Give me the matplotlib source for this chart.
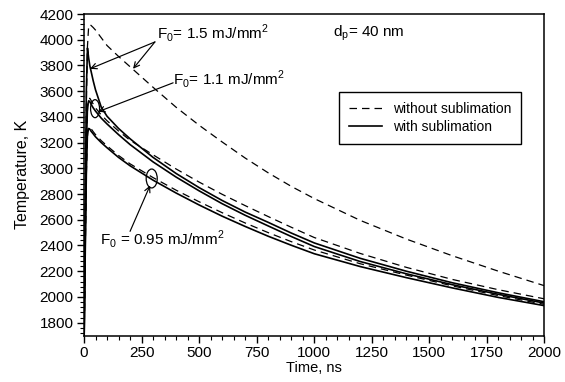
import matplotlib
matplotlib.use("Agg")
import matplotlib.pyplot as plt
from matplotlib.patches import Ellipse
from matplotlib.ticker import MultipleLocator

plt.rcParams['font.family'] = ['Liberation Sans', 'DejaVu Sans']
plt.rcParams['mathtext.fontset'] = 'custom'
plt.rcParams['mathtext.rm'] = 'Liberation Sans'

# time grid, ns
t = [0, 5, 10, 15, 20, 25, 30, 40, 50, 75, 100, 150, 200, 300, 400, 500,
     600, 700, 800, 900, 1000, 1200, 1400, 1600, 1800, 2000]

# temperature, K
T15_nosub = [1600, 2600, 3500, 3950, 4100, 4118, 4112, 4095, 4075, 4015, 3955, 3870,
             3790, 3630, 3475, 3335, 3205, 3080, 2965, 2860, 2765, 2595, 2450, 2320,
             2200, 2087]
T15_sub = [1600, 2600, 3600, 3935, 3860, 3800, 3760, 3680, 3610, 3475, 3405, 3310,
           3230, 3085, 2960, 2850, 2750, 2660, 2580, 2497, 2420, 2300, 2200, 2110,
           2032, 1962]
T11_nosub = [1600, 2400, 3150, 3450, 3535, 3545, 3530, 3500, 3470, 3415, 3370, 3290,
             3218, 3105, 2995, 2893, 2798, 2710, 2625, 2542, 2462, 2338, 2230, 2136,
             2056, 1985]
T11_sub = [1600, 2400, 3150, 3480, 3525, 3520, 3500, 3470, 3445, 3390, 3345, 3262,
           3185, 3050, 2932, 2825, 2725, 2635, 2552, 2470, 2392, 2275, 2180, 2095,
           2020, 1952]
T095_nosub = [1600, 2300, 2950, 3250, 3315, 3322, 3310, 3285, 3262, 3215, 3175, 3100,
              3035, 2928, 2830, 2740, 2655, 2575, 2500, 2430, 2365, 2258, 2170, 2086,
              2010, 1942]
T095_sub = [1600, 2300, 2950, 3280, 3310, 3305, 3290, 3268, 3245, 3200, 3160, 3085,
            3020, 2908, 2808, 2715, 2628, 2548, 2472, 2402, 2336, 2236, 2150, 2070,
            1996, 1932]

fig = plt.figure(figsize=(5.65, 3.82), dpi=100)
ax = fig.add_axes([0.1487, 0.1217, 0.815, 0.8416])

dash = (0, (6, 4))
lw_d, lw_s = 0.9, 1.2
ax.plot(t, T15_nosub, color='black', lw=lw_d, linestyle=dash)
ax.plot(t, T11_nosub, color='black', lw=lw_d, linestyle=dash)
ax.plot(t, T095_nosub, color='black', lw=lw_d, linestyle=dash, label='without sublimation')
ax.plot(t, T15_sub, color='black', lw=lw_s)
ax.plot(t, T11_sub, color='black', lw=lw_s)
ax.plot(t, T095_sub, color='black', lw=lw_s, label='with sublimation')

ax.set_xlim(0, 2000)
ax.set_ylim(1700, 4200)
ax.xaxis.set_major_locator(MultipleLocator(250))
ax.xaxis.set_minor_locator(MultipleLocator(50))
ax.yaxis.set_major_locator(MultipleLocator(200))
ax.yaxis.set_minor_locator(MultipleLocator(40))
ax.tick_params(which='major', direction='out', length=5, width=1, labelsize=11, pad=2.5)
ax.tick_params(which='minor', direction='out', length=3, width=0.8)
for s in ax.spines.values():
    s.set_linewidth(1.1)

ax.set_xlabel('Time, ns', fontsize=10.5, labelpad=1)
ax.set_ylabel('Temperature, K', fontsize=11.5, labelpad=7)

# annotations
akw = dict(arrowstyle='->', color='black', lw=0.85, shrinkA=0, shrinkB=0)
ax.text(317, 4053, r'F$_0$= 1.5 mJ/mm$^2$', fontsize=11, va='center')
ax.annotate('', xy=(26, 3774), xytext=(308, 3983), arrowprops=akw)
ax.annotate('', xy=(213, 3774), xytext=(308, 3983), arrowprops=akw)

ax.text(387, 3696, r'F$_0$= 1.1 mJ/mm$^2$', fontsize=11, va='center')
ax.annotate('', xy=(61, 3440), xytext=(387, 3665), arrowprops=akw)
ax.add_patch(Ellipse((48, 3464), 39, 140, angle=0, fill=False, lw=0.9))

ax.text(69, 2448, r'F$_0$ = 0.95 mJ/mm$^2$', fontsize=11, va='center')
ax.annotate('', xy=(287, 2867), xytext=(200, 2510), arrowprops=akw)
ax.add_patch(Ellipse((294, 2921), 48, 147, angle=0, fill=False, lw=0.9))

ax.text(1081, 4053, r'd$_\mathrm{p}$= 40 nm', fontsize=11, va='center')

leg = ax.legend(loc='upper left', bbox_to_anchor=(0.554, 0.757), borderaxespad=0,
                fontsize=10, frameon=True, fancybox=False, edgecolor='black',
                framealpha=1, handlelength=2.4, handletextpad=0.8,
                borderpad=0.7, labelspacing=0.3)
leg.get_frame().set_linewidth(1)

fig.savefig('out.png', dpi=100)
